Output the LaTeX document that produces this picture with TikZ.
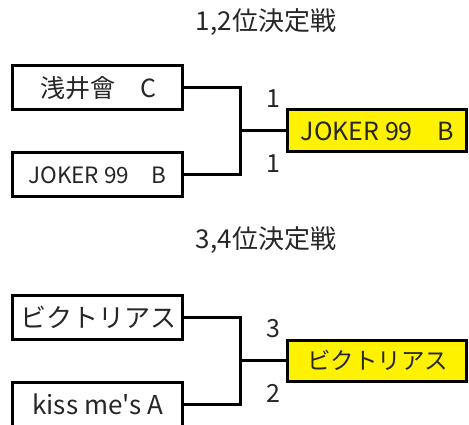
\documentclass[tikz,border=0pt]{standalone}
\usepackage{fontspec}
\setmainfont{Noto Sans CJK JP}
\newcommand{\fs}[1]{\fontsize{#1}{#1}\selectfont}
\begin{document}
\begin{tikzpicture}[x=1pt,y=-1pt,
  txt/.style={text=black!85, inner sep=0pt},
  box/.style={draw=black, line width=3pt},
  wire/.style={draw=black, line width=3pt},
  winbox/.style={draw=black, fill=yellow, line width=3pt}]
\useasboundingbox (0,0) rectangle (469,425);
% titles
\node[txt, font=\fs{26}] (t1) at (266,22) {1,2位決定戦};
\node[txt, font=\fs{26}] (t2) at (266,240) {3,4位決定戦};
% match 1
\draw[box] (12,66) rectangle (182,110);
\node[txt, font=\fs{25}] (a1) at (98,88) {浅井會　C};
\draw[box] (12,153) rectangle (182,197);
\node[txt, font=\fs{22.5}] (a2) at (97.5,175) {JOKER 99　B};
\draw[winbox] (287,110) rectangle (466,152);
\node[txt, font=\fs{25}] (w1) at (377.5,131) {JOKER 99　B};
\coordinate (j1) at (240,131);
\draw[wire] (182,88) -| (240,175) -- (182,175);
\draw[wire] (j1) -- (287,131);
\node[txt, font=\fs{25}] (s1) at (273,99) {1};
\node[txt, font=\fs{25}] (s2) at (273,164) {1};
% match 2
\draw[box] (12,295) rectangle (182,339);
\node[txt, font=\fs{26}] (b1) at (98,317) {ビクトリアス};
\draw[box] (12,430) -- (12,382) -- (182,382) -- (182,430);
\node[txt, font=\fs{26}] (b2) at (98,404) {kiss me\textquotesingle s A};
\draw[winbox] (287,340) rectangle (466,381);
\node[txt, font=\fs{23.5}] (w2) at (377.5,360) {ビクトリアス};
\coordinate (j2) at (240,360);
\draw[wire] (182,317) -| (240,404) -- (182,404);
\draw[wire] (j2) -- (287,360);
\node[txt, font=\fs{25}] (s3) at (273,329) {3};
\node[txt, font=\fs{25}] (s4) at (273,393) {2};
\end{tikzpicture}
\end{document}
